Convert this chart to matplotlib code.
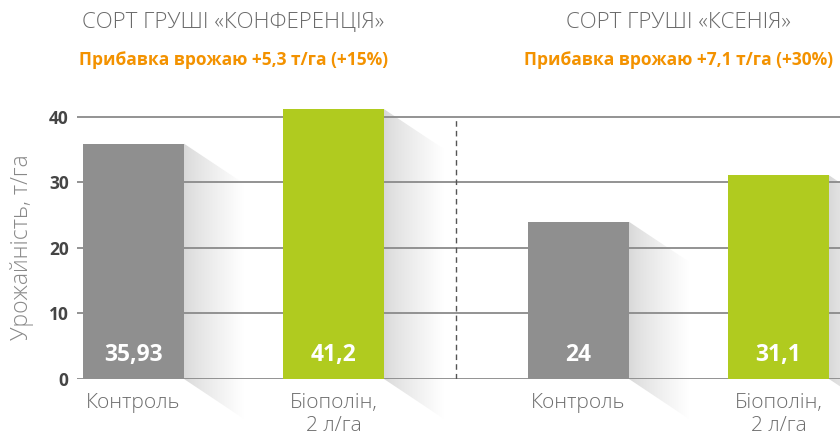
import numpy as np
import matplotlib
matplotlib.use("Agg")
import matplotlib.pyplot as plt
from matplotlib.patches import Polygon
from matplotlib.colors import LinearSegmentedColormap
import matplotlib.transforms as mtransforms

plt.rcParams['font.family'] = ['Open Sans', 'DejaVu Sans']

# ---- data ----
groups = ["СОРТ ГРУШІ «КОНФЕРЕНЦІЯ»", "СОРТ ГРУШІ «КСЕНІЯ»"]
subtitles = ["Прибавка врожаю +5,3 т/га (+15%)", "Прибавка врожаю +7,1 т/га (+30%)"]
categories = ["Контроль", "Біополін,\n2 л/га", "Контроль", "Біополін,\n2 л/га"]
values = [35.93, 41.2, 24.0, 31.1]
value_labels = ["35,93", "41,2", "24", "31,1"]
yticks = [0, 10, 20, 30, 40]
ylabel = "Урожайність, т/га"

# ---- style ----
positions = [0, 1, 2.225, 3.225]
bar_colors = ["#8f8f8f", "#b0cb1f", "#8f8f8f", "#b0cb1f"]
bar_w = 0.505
orange = "#f39200"

fig = plt.figure(figsize=(8.4, 4.38), dpi=100)
ax = fig.add_axes([77 / 840, 59 / 438, 763 / 840, 289 / 438])
ax.set_xlim(-0.2825, 3.5325)
ax.set_ylim(0, 44.12)

# gridlines
for t in yticks:
    ax.axhline(t, color="#8a8a8a", lw=1.3, zorder=1)

# shadows
sdx, sdy = 0.30, 6.1
grad = np.linspace(0, 1, 256) ** 0.8
img = np.tile(grad, (2, 1))
cmap = LinearSegmentedColormap.from_list("sh", ["#d8d8d8", "#ffffff"])
for p, v in zip(positions, values):
    R = p + bar_w / 2
    im = ax.imshow(img, cmap=cmap, extent=[R, R + sdx, -sdy, v], aspect="auto",
                   zorder=0.5, interpolation="bilinear")
    poly = Polygon([(R, v), (R + sdx, v - sdy), (R + sdx, -sdy), (R, 0)],
                   closed=True, transform=ax.transData, facecolor="none", edgecolor="none")
    im.set_clip_path(poly)
    im.set_clip_box(fig.bbox)

ax.bar(positions, values, width=bar_w, color=bar_colors, zorder=2)

for p, lab in zip(positions, value_labels):
    ax.text(p, 3.6, lab, ha="center", va="center", color="white",
            fontsize=16.5, fontweight="bold", zorder=3)

# separator
ax.plot([1.6125, 1.6125], [0, 40], color="#555555", lw=1.0, ls=(0, (4, 3)), zorder=1.5)

ax.set_xlim(-0.2825, 3.5325)
ax.set_ylim(0, 44.12)

for s in ax.spines.values():
    s.set_visible(False)
ax.set_xticks([])
ax.set_yticks(yticks)
ax.set_yticklabels([str(t) for t in yticks], fontsize=12.5, fontweight="bold", color="#454545")
ax.tick_params(axis="y", length=0, pad=6)

blend = mtransforms.blended_transform_factory(ax.transData, fig.transFigure)
for p, c in zip(positions, categories):
    ax.text(p, 1 - 393 / 438, c, transform=blend, ha="center", va="top",
            fontsize=15, fontweight="light", color="#6d6d6d", linespacing=1.2)

centers = [0.5, 2.725]
for cx, t, st in zip(centers, groups, subtitles):
    fig.text(cx, 1 - 22 / 438, t, transform=blend, ha="center", va="center",
             fontsize=16, fontweight="light", color="#6a6a6a")
    fig.text(cx, 1 - 60 / 438, st, transform=blend, ha="center", va="center",
             fontsize=12.5, fontweight="bold", color=orange)

fig.text(22 / 840, 1 - 247 / 438, ylabel, rotation=90, ha="center", va="center",
         fontsize=16.5, fontweight="light", color="#888888")

fig.savefig("out.png", dpi=100)
